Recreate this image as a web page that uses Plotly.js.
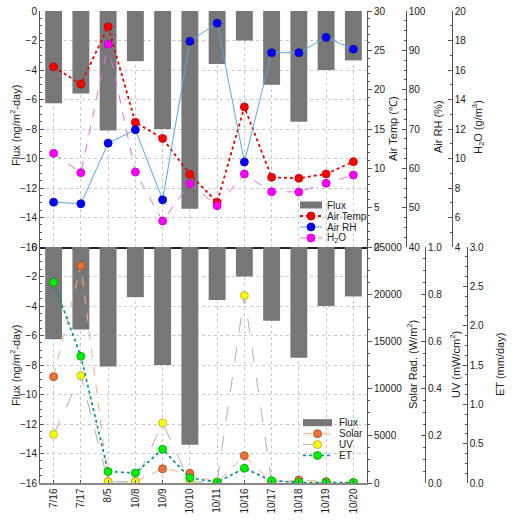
<!DOCTYPE html>
<html>
<head>
<meta charset="utf-8">
<script src="https://cdn.plot.ly/plotly-3.0.1.min.js"></script>
<style>html,body{margin:0;padding:0;background:#fff;}#chart{width:515px;height:525px;}</style>
</head>
<body>
<div id="chart"></div>
<script>
var categories = ['7/16','7/17','8/5','10/8','10/9','10/10','10/11','10/16','10/17','10/18','10/19','10/20'];
var flux = [-6.25,-5.6,-8.1,-3.4,-8.0,-13.4,-3.6,-2.0,-5.0,-7.5,-4.0,-3.35];
var airTemp = [22.9,20.7,28.0,15.85,13.8,9.24,5.68,17.8,8.86,8.73,9.28,10.85];
var airRH = [51.4,51.0,66.4,69.8,52.0,92.3,96.9,61.6,89.4,89.4,93.3,90.3];
var h2o = [10.35,9.04,17.74,9.08,5.76,8.29,6.8,8.95,7.75,7.73,8.32,8.88];
var solar = [11263,23020,140,140,1500,1030,30,2880,100,320,150,20];
var uv = [0.206,0.455,0.005,0.005,0.254,0.005,0.003,0.794,0.005,0.002,0.002,0.002];
var et = [2.55,1.61,0.145,0.128,0.428,0.066,0.01,0.187,0.03,0.008,0.005,0.005];
var legendTop = ['Flux','Air Temp','Air RH','H<sub>2</sub>O'];
var legendBottom = ['Flux','Solar','UV','ET'];

var FONT = 'Arial, "Liberation Sans", sans-serif';
var TXT = '#222';
var AX = '#555';
var GRID = '#c8c8c8';
var BAR = '#777777';

// series styles: [line colour, dash, width, marker colour, marker edge]
var S = {
  temp:['#e00000','dot',1.8,'#ff0000','#b00000'],
  rh:['#5aa8dc','solid',1,'#0000ff','#0000b0'],
  h2o:['#e070e0','dash',1,'#ff00ff','#c000c0'],
  solar:['#f5b080','dash',1,'#f07038','#a04818'],
  uv:['#b0b0b0','longdash',1,'#ffff00','#b0a040'],
  et:['#008b8b','dot',1.6,'#00ee00','#00a000']
};

function line(name, y, xax, yax, s) {
  return {type:'scatter', mode:'lines+markers', name:name, x:categories, y:y,
    xaxis:xax, yaxis:yax, showlegend:false,
    line:{color:s[0], dash:s[1], width:s[2]},
    marker:{color:s[3], size:8, line:{color:s[4], width:0.8}}};
}

var traces = [
  {type:'bar', name:'Flux', x:categories, y:flux, xaxis:'x', yaxis:'y', width:0.62,
    marker:{color:BAR}, showlegend:false},
  line(legendTop[1], airTemp, 'x', 'y2', S.temp),
  line(legendTop[2], airRH, 'x', 'y3', S.rh),
  line(legendTop[3], h2o, 'x', 'y4', S.h2o),
  {type:'bar', name:'Flux', x:categories, y:flux, xaxis:'x2', yaxis:'y5', width:0.62,
    marker:{color:BAR}, showlegend:false},
  line(legendBottom[1], solar, 'x2', 'y6', S.solar),
  line(legendBottom[2], uv, 'x2', 'y7', S.uv),
  line(legendBottom[3], et, 'x2', 'y8', S.et)
];

var XD = [0, 0.7032];
function rightAxis(overlay, range, dtick, mdtick, fmt, pos, ticks) {
  var a = {overlaying:overlay, side:'right', range:range, dtick:dtick, tick0:0,
    showgrid:false, zeroline:false, showline:true, linecolor:AX, linewidth:1,
    ticks:ticks, ticklen:4, tickcolor:AX, tickformat:fmt, exponentformat:'none', separatethousands:false,
    tickfont:{size:10, color:TXT, family:FONT},
    minor:{dtick:mdtick, ticks:ticks, ticklen:2, tickcolor:AX}};
  if (pos === null) { a.anchor = (overlay==='y' ? 'x' : 'x2'); }
  else { a.anchor = 'free'; a.position = pos; }
  return a;
}
function fluxAxis(dom, anchor) {
  return {domain:dom, anchor:anchor, range:[-16,0], dtick:2, tick0:0,
    showgrid:true, gridcolor:GRID, griddash:'dot', gridwidth:1, zeroline:false,
    showline:true, linecolor:AX, linewidth:1, ticks:'inside', ticklen:4, tickcolor:AX,
    tickfont:{size:10, color:TXT, family:FONT},
    minor:{dtick:0.5, ticks:'inside', ticklen:2, tickcolor:AX}};
}

// pixel -> paper helpers for the hand-built legends (plot area: x 40..505, y 11..483)
function px(x){ return (x-40)/465; }
function py(y){ return 1-(y-11)/472; }

var shapes = [];
var annotations = [];
function legendBlock(labels, styles, x0, x1, xt, ys) {
  // Flux bar swatch
  shapes.push({type:'rect', xref:'paper', yref:'paper', x0:px(x0), x1:px(x1), y0:py(ys[0]+3.5), y1:py(ys[0]-3.5),
    fillcolor:BAR, line:{width:0}});
  annotations.push({text:labels[0], xref:'paper', yref:'paper', x:px(xt), y:py(ys[0]), xanchor:'left', yanchor:'middle',
    showarrow:false, font:{size:10, color:TXT}});
  for (var i=1;i<4;i++){
    var s = styles[i-1], cx=(x0+x1)/2;
    shapes.push({type:'line', xref:'paper', yref:'paper', x0:px(x0), x1:px(x1), y0:py(ys[i]), y1:py(ys[i]),
      line:{color:s[0], dash:s[1], width:s[2]}});
    shapes.push({type:'circle', xref:'paper', yref:'paper', x0:px(cx-4), x1:px(cx+4), y0:py(ys[i]+4), y1:py(ys[i]-4),
      fillcolor:s[3], line:{color:s[4], width:0.8}});
    annotations.push({text:labels[i], xref:'paper', yref:'paper', x:px(xt), y:py(ys[i]), xanchor:'left', yanchor:'middle',
      showarrow:false, font:{size:10, color:TXT}});
  }
}
legendBlock(legendTop, [S.temp,S.rh,S.h2o], 300, 322, 325, [205,216,227,238]);
legendBlock(legendBottom, [S.solar,S.uv,S.et], 303, 332, 337, [422.7,433.7,444.5,455.5]);

function vtitle(text, x, y) {
  annotations.push({text:text, xref:'paper', yref:'paper', x:px(x), y:py(y), xanchor:'center', yanchor:'middle',
    textangle:-90, showarrow:false, font:{size:11, color:TXT}});
}
vtitle('Flux (ng/m<sup>2</sup>-day)', 15, 126);
vtitle('Flux (ng/m<sup>2</sup>-day)', 15, 366);
vtitle('Air Temp (℃)', 393, 129);
vtitle('Air RH (%)', 438, 127);
vtitle('H<sub>2</sub>O (g/m<sup>3</sup>)', 478, 127);
vtitle('Solar Rad. (W/m<sup>2</sup>)', 412, 365);
vtitle('UV (mW/cm<sup>2</sup>)', 455, 365);
vtitle('ET (mm/day)', 500, 365);

var layout = {
  width:515, height:525,
  margin:{l:40, r:10, t:11, b:42},
  paper_bgcolor:'#fff', plot_bgcolor:'#fff',
  font:{family:FONT, size:10, color:TXT},
  showlegend:false,
  xaxis:{domain:XD, anchor:'y', type:'category', range:[-0.5,11.5],
    showticklabels:false, showgrid:true, gridcolor:GRID, griddash:'dot', gridwidth:1,
    showline:true, linecolor:'#222', linewidth:1.5, ticks:'', zeroline:false},
  xaxis2:{domain:XD, anchor:'y5', type:'category', range:[-0.5,11.5],
    showgrid:true, gridcolor:GRID, griddash:'dot', gridwidth:1,
    showline:true, linecolor:'#888', linewidth:1.5, ticks:'inside', ticklen:3, tickcolor:AX,
    tickangle:-90, tickfont:{size:10, color:TXT, family:FONT}, zeroline:false},
  yaxis: fluxAxis([0.5,1], 'x'),
  yaxis2: rightAxis('y', [0,30], 5, 1, '', null, 'outside'),
  yaxis3: rightAxis('y', [40,100], 10, 2.5, '', 0.7865, 'inside'),
  yaxis4: rightAxis('y', [4,20], 2, 1, '', 0.8854, 'inside'),
  yaxis5: fluxAxis([0,0.5], 'x2'),
  yaxis6: rightAxis('y5', [0,25000], 5000, 1250, 'd', null, 'outside'),
  yaxis7: rightAxis('y5', [0,1], 0.2, 0.05, '.1f', 0.828, 'inside'),
  yaxis8: rightAxis('y5', [0,3], 0.5, 0.125, '.1f', 0.9176, 'inside'),
  shapes:shapes,
  annotations:annotations
};

Plotly.newPlot('chart', traces, layout, {displayModeBar:false, staticPlot:true});
</script>
</body>
</html>
